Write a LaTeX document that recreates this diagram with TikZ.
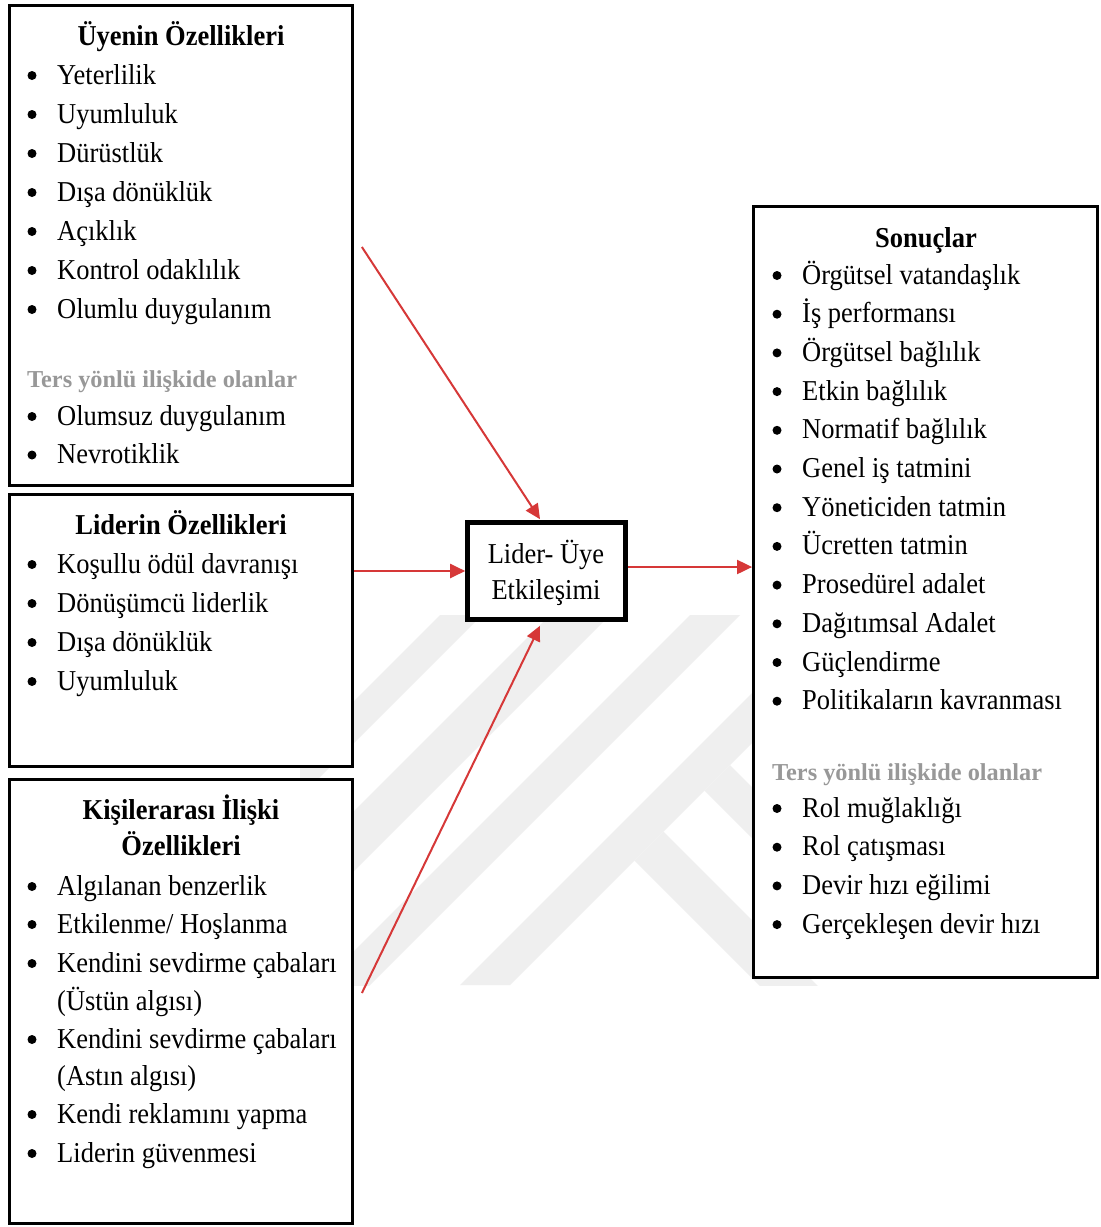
\documentclass[tikz,border=0pt]{standalone}
\usepackage{fontspec}
\setmainfont{Liberation Serif}[FakeStretch=0.92]
\newfontfamily\subserif{Liberation Serif}
\usetikzlibrary{arrows.meta}

\definecolor{linkred}{RGB}{214,56,56}
\definecolor{subgray}{RGB}{152,152,152}
\definecolor{markgray}{RGB}{239,239,239}

\newcommand\bodyfs{\fontsize{28.8}{34}\selectfont}
\newcommand\headfs{\fontsize{28.8}{34}\selectfont\bfseries}
\newcommand\subfs{\subserif\fontsize{24.3}{30}\selectfont\bfseries}

\tikzset{
  frame/.style={draw=black, line width=2.8pt, fill=white, inner sep=0pt},
  coreframe/.style={draw=black, line width=4.6pt, fill=white, inner sep=0pt},
  bul/.style={circle, fill=black, inner sep=0pt, minimum size=9pt, yshift=8.5pt},
  itx/.style={anchor=base west, inner sep=0pt, font=\bodyfs},
  ttl/.style={anchor=base, inner sep=0pt, font=\headfs},
  subhead/.style={anchor=base west, inner sep=0pt, font=\subfs, text=subgray},
  ctr/.style={anchor=base, inner sep=0pt, font=\bodyfs},
  link/.style={draw=linkred, line width=2pt, -{Triangle[length=15pt,width=14pt]}},
}

\begin{document}
\begin{tikzpicture}[x=1pt, y=-1pt]
\useasboundingbox (0,0) rectangle (1101,1227);
\fill[white] (0,0) rectangle (1101,1227);

% faint background emblem: parallel bands and two crossing bands
\begin{scope}
  \clip (300,615) rectangle (1000,985);
  \fill[markgray] (440,615) -- (482,615) -- (300,797) -- (300,755) -- cycle;
  \fill[markgray] (550,615) -- (610,615) -- (300,925) -- (300,865) -- cycle;
  \fill[markgray] (690,615) -- (740,615) -- (300,1055) -- (300,1005) -- cycle;
  \fill[markgray] (460,985) -- (510,985) -- (910,585) -- (860,585) -- cycle;
  \fill[markgray] (663.5,831.5) -- (850,1018) -- (850,1076) -- (634.5,860.5) -- cycle;
  \fill[markgray] (730,765) -- (850,885) -- (850,936) -- (704.5,790.5) -- cycle;
\end{scope}

% frames
\node[frame, minimum width=343pt, minimum height=480pt] (uye) at (181,245.5) {};
\node[frame, minimum width=343pt, minimum height=272pt] (lider) at (181,630.5) {};
\node[frame, minimum width=343pt, minimum height=444pt] (kisi) at (181,1001.5) {};
\node[frame, minimum width=344pt, minimum height=771pt] (son) at (925.5,592) {};
\node[coreframe, minimum width=158pt, minimum height=97pt] (lmx) at (546.5,571) {};

% central box text
\node[ctr] (lmx1) at (546,563) {Lider- Üye};
\node[ctr] (lmx2) at (546,599) {Etkileşimi};

% member traits
\node[ttl] (uyeT) at (181,45) {Üyenin Özellikleri};
\foreach \t [count=\i] in {Yeterlilik,Uyumluluk,Dürüstlük,Dışa dönüklük,Açıklık,Kontrol odaklılık,Olumlu duygulanım}{
  \node[bul] (ub\i) at (32,{84+39*(\i-1)}) {};
  \node[itx] (ut\i) at (57,{84+39*(\i-1)}) {\t};
}
\node[subhead] (uyeN) at (27,387) {Ters yönlü ilişkide olanlar};
\foreach \t [count=\i] in {Olumsuz duygulanım,Nevrotiklik}{
  \node[bul] (unb\i) at (32,{425+38.5*(\i-1)}) {};
  \node[itx] (unt\i) at (57,{425+38.5*(\i-1)}) {\t};
}

% leader traits
\node[ttl] (liderT) at (181,534) {Liderin Özellikleri};
\foreach \t [count=\i] in {Koşullu ödül davranışı,Dönüşümcü liderlik,Dışa dönüklük,Uyumluluk}{
  \node[bul] (lb\i) at (32,{573+39*(\i-1)}) {};
  \node[itx] (lt\i) at (57,{573+39*(\i-1)}) {\t};
}

% interpersonal traits
\node[ttl] (kisiT1) at (181,819) {Kişilerarası İlişki};
\node[ttl] (kisiT2) at (181,855) {Özellikleri};
\node[bul] (kb1) at (32,895) {};  \node[itx] (kt1) at (57,895) {Algılanan benzerlik};
\node[bul] (kb2) at (32,933) {};  \node[itx] (kt2) at (57,933) {Etkilenme/ Hoşlanma};
\node[bul] (kb3) at (32,972) {};  \node[itx] (kt3) at (57,972) {Kendini sevdirme çabaları};
\node[itx] (kt3b) at (57,1010) {(Üstün algısı)};
\node[bul] (kb4) at (32,1048) {}; \node[itx] (kt4) at (57,1048) {Kendini sevdirme çabaları};
\node[itx] (kt4b) at (57,1085) {(Astın algısı)};
\node[bul] (kb5) at (32,1123) {}; \node[itx] (kt5) at (57,1123) {Kendi reklamını yapma};
\node[bul] (kb6) at (32,1162) {}; \node[itx] (kt6) at (57,1162) {Liderin güvenmesi};

% outcomes
\node[ttl] (sonT) at (926,247) {Sonuçlar};
\foreach \t [count=\i] in {Örgütsel vatandaşlık,İş performansı,Örgütsel bağlılık,Etkin bağlılık,Normatif bağlılık,Genel iş tatmini,Yöneticiden tatmin,Ücretten tatmin,Prosedürel adalet,Dağıtımsal Adalet,Güçlendirme,Politikaların kavranması}{
  \node[bul] (sb\i) at (777,{284+38.7*(\i-1)}) {};
  \node[itx] (st\i) at (802,{284+38.7*(\i-1)}) {\t};
}
\node[subhead] (sonN) at (772,780) {Ters yönlü ilişkide olanlar};
\foreach \t [count=\i] in {Rol muğlaklığı,Rol çatışması,Devir hızı eğilimi,Gerçekleşen devir hızı}{
  \node[bul] (snb\i) at (777,{817+38.7*(\i-1)}) {};
  \node[itx] (snt\i) at (802,{817+38.7*(\i-1)}) {\t};
}

% connectors
\draw[link] ([xshift=8pt,yshift=-1.5pt]uye.east) -- ([xshift=-6.5pt,yshift=1pt]lmx.north);
\draw[link] (lider.east |- lmx.west) -- (lmx.west);
\draw[link] ([xshift=8pt,yshift=8.5pt]kisi.east) -- ([xshift=-6.5pt,yshift=-4pt]lmx.south);
\coordinate (outA) at ([yshift=4pt]lmx.east);
\draw[link] (outA) -- (outA -| son.west);
\end{tikzpicture}
\end{document}
